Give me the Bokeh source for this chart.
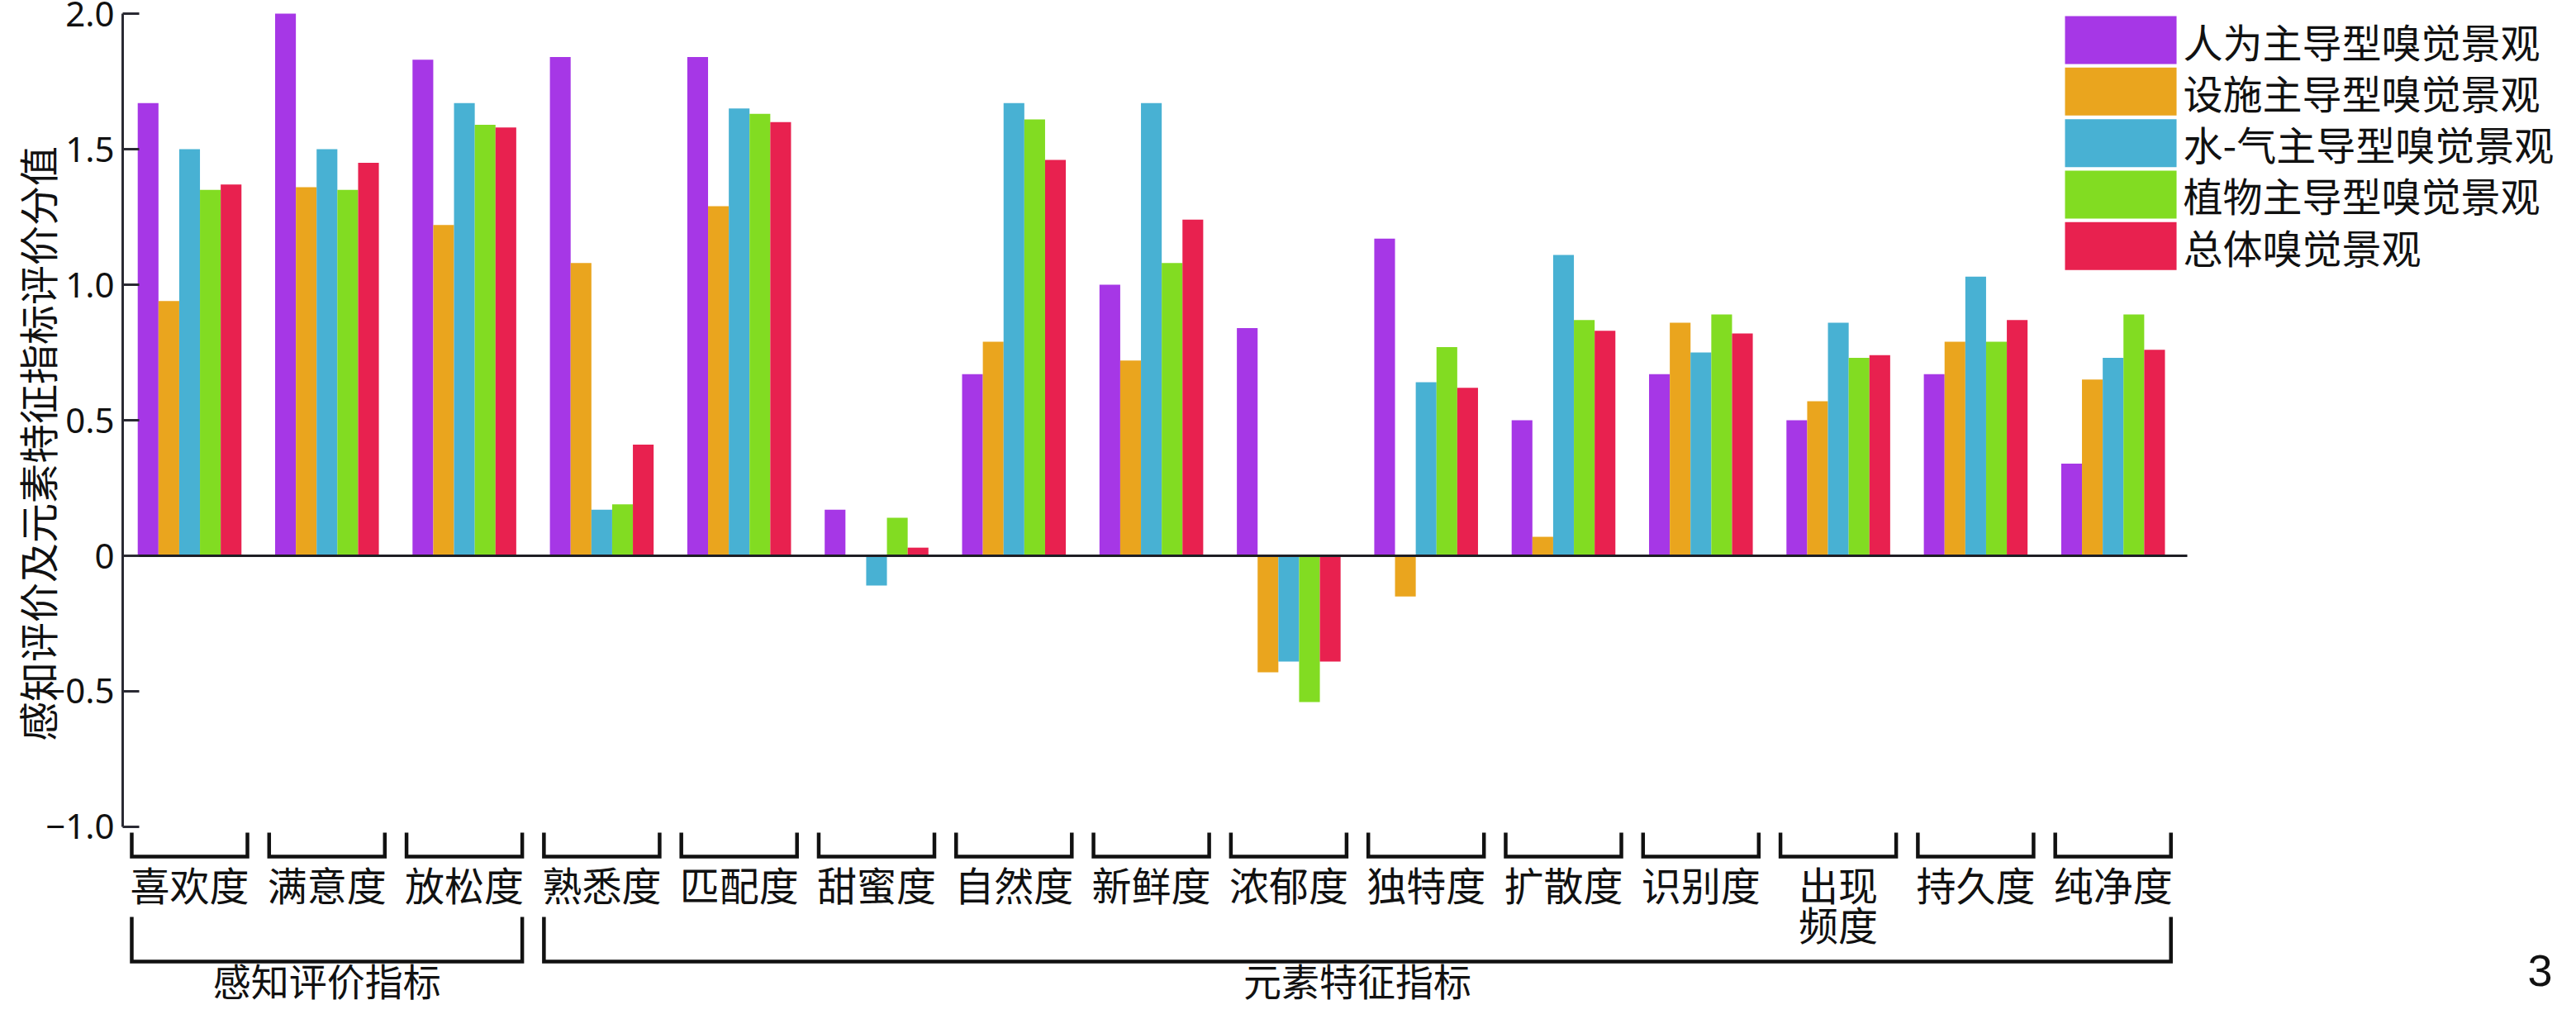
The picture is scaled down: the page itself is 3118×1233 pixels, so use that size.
from bokeh.plotting import figure
from bokeh.models import Range1d, FixedTicker, ColumnDataSource
from bokeh.core.properties import value
from bokeh.embed import file_html
from bokeh.resources import INLINE

# ---------------- data ----------------
categories = ["喜欢度", "满意度", "放松度", "熟悉度", "匹配度", "甜蜜度", "自然度", "新鲜度",
              "浓郁度", "独特度", "扩散度", "识别度", "出现频度", "持久度", "纯净度"]
category_labels = ["喜欢度", "满意度", "放松度", "熟悉度", "匹配度", "甜蜜度", "自然度", "新鲜度",
                   "浓郁度", "独特度", "扩散度", "识别度", "出现\n频度", "持久度", "纯净度"]

series_names = ["人为主导型嗅觉景观", "设施主导型嗅觉景观", "水-气主导型嗅觉景观",
                "植物主导型嗅觉景观", "总体嗅觉景观"]
series_colors = ["#A637E6", "#EAA51E", "#48B1D3", "#82DC22", "#E8214F"]

human    = [1.67, 2.00, 1.83, 1.84, 1.84, 0.17, 0.67, 1.00, 0.84, 1.17, 0.50, 0.67, 0.50, 0.67, 0.34]
facility = [0.94, 1.36, 1.22, 1.08, 1.29, 0.00, 0.79, 0.72, -0.43, -0.15, 0.07, 0.86, 0.57, 0.79, 0.65]
water    = [1.50, 1.50, 1.67, 0.17, 1.65, -0.11, 1.67, 1.67, -0.39, 0.64, 1.11, 0.75, 0.86, 1.03, 0.73]
plant    = [1.35, 1.35, 1.59, 0.19, 1.63, 0.14, 1.61, 1.08, -0.54, 0.77, 0.87, 0.89, 0.73, 0.79, 0.89]
overall  = [1.37, 1.45, 1.58, 0.41, 1.60, 0.03, 1.46, 1.24, -0.39, 0.62, 0.83, 0.82, 0.74, 0.87, 0.76]
series_values = [human, facility, water, plant, overall]

group_names = ["感知评价指标", "元素特征指标"]
group_first = [0, 3]
group_last = [2, 14]

y_ticks = [-1.0, -0.5, 0.0, 0.5, 1.0, 1.5, 2.0]
y_tick_labels = ["−1.0", "−0.5", "0", "0.5", "1.0", "1.5", "2.0"]
y_title = "感知评价及元素特征指标评价分值"
figure_number = "3"

# ---------------- layout constants (data units) ----------------
CJK = "Noto Sans CJK SC"
BAR_W = 0.151
BRACKET_HALF = 0.421
X_START, X_END = -0.487, 17.276
Y_START, Y_END = -1.6616, 2.0488
ZERO_END = 14.54

p = figure(width=3102, height=1217, x_range=Range1d(X_START, X_END), y_range=Range1d(Y_START, Y_END),
           output_backend="svg", toolbar_location=None, x_axis_location=None,
           min_border_left=148, min_border_right=0, min_border_top=0, min_border_bottom=0)
p.grid.visible = False
p.outline_line_color = None
p.background_fill_color = "white"
p.border_fill_color = "white"

ax = p.yaxis[0]
ax.ticker = FixedTicker(ticks=y_ticks, minor_ticks=[])
ax.major_label_overrides = {t: s for t, s in zip(y_ticks, y_tick_labels)}
ax.bounds = (y_ticks[0], y_ticks[-1])
ax.axis_line_width = 3
ax.axis_line_color = "#2a2a33"
ax.major_tick_in = 20
ax.major_tick_out = 0
ax.major_tick_line_width = 3
ax.major_tick_line_color = "#2a2a33"
ax.minor_tick_line_color = None
ax.major_label_text_font = "Noto Sans"
ax.major_label_text_font_size = "42px"
ax.major_label_text_color = "#111111"
ax.major_label_standoff = 10
# leading ideographic spaces lift the centred title to where the original sits
ax.axis_label = "\u3000\u3000\u3000" + y_title
ax.axis_label_standoff = -27
ax.axis_label_text_font = CJK
ax.axis_label_text_font_size = "48px"
ax.axis_label_text_font_style = "normal"
ax.axis_label_text_color = "#111111"

# ---------------- bars ----------------
n = len(categories)
for j, (name, vals, col) in enumerate(zip(series_names, series_values, series_colors)):
    src = ColumnDataSource(dict(x=[i + (j - 2) * BAR_W for i in range(n)], top=vals))
    p.vbar(x="x", top="top", bottom=0, width=BAR_W, source=src,
           fill_color=col, line_color=None)

# zero line
p.segment(x0=[X_START], y0=[0], x1=[ZERO_END], y1=[0], line_width=3, line_color="#1e1e24")

# ---------------- category brackets & labels ----------------
BR_TOP, BR_BOT = -1.0213, -1.1098
xs, ys = [], []
for i in range(n):
    xs.append([i - BRACKET_HALF, i - BRACKET_HALF, i + BRACKET_HALF, i + BRACKET_HALF])
    ys.append([BR_TOP, BR_BOT, BR_BOT, BR_TOP])
p.multi_line(xs, ys, line_width=4.5, line_color="#111111", line_join="miter")

LBL_Y, LBL_STEP = -1.208, 0.148
tx, ty, tt = [], [], []
for i, lab in enumerate(category_labels):
    for k, line in enumerate(lab.split("\n")):
        tx.append(i)
        ty.append(LBL_Y - k * LBL_STEP)
        tt.append(line)
p.text(x=tx, y=ty, text=tt, text_align="center", text_baseline="middle",
       text_font=value(CJK), text_font_size="48px", text_color="#111111")

# ---------------- group brackets & labels ----------------
GB_TOP, GB_BOT = -1.3323, -1.497
gxs, gys, gcx = [], [], []
for s, e in zip(group_first, group_last):
    gxs.append([s - BRACKET_HALF, s - BRACKET_HALF, e + BRACKET_HALF, e + BRACKET_HALF])
    gys.append([GB_TOP, GB_BOT, GB_BOT, GB_TOP])
    gcx.append((s + e) / 2)
p.multi_line(gxs, gys, line_width=4.5, line_color="#111111", line_join="miter")
p.text(x=gcx, y=[-1.563] * len(gcx), text=group_names, text_align="center",
       text_baseline="middle", text_font=value(CJK), text_font_size="46px", text_color="#111111")

# ---------------- legend ----------------
LEG_X0, LEG_X1 = 13.650, 14.462
LEG_Y0, LEG_STEP, LEG_H = 1.9024, 0.19, 0.1768
ly = [LEG_Y0 - j * LEG_STEP for j in range(len(series_names))]
p.rect(x=[(LEG_X0 + LEG_X1) / 2] * len(ly), y=ly, width=LEG_X1 - LEG_X0, height=LEG_H,
       fill_color=series_colors, line_color=None)
p.text(x=[14.51] * len(ly), y=ly, text=series_names, text_align="left", text_baseline="middle",
       text_font=value(CJK), text_font_size="48px", text_color="#111111")

# figure number
p.text(x=[17.108], y=[-1.53], text=[figure_number], text_align="center", text_baseline="middle",
       text_font=value("Liberation Sans Narrow, Liberation Sans, sans-serif"),
       text_font_size="54px", text_color="#111111")

open("out.html", "w").write(file_html(p, INLINE))
